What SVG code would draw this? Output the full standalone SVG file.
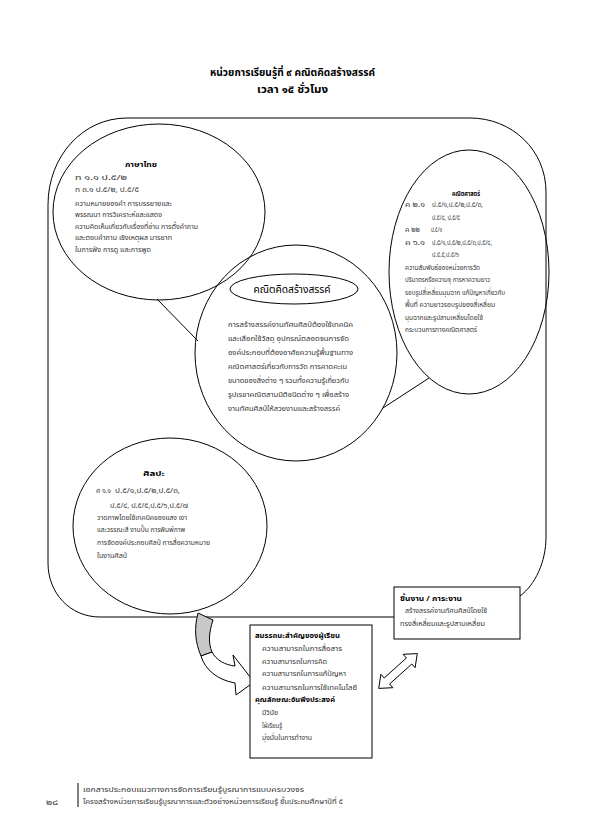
<svg xmlns="http://www.w3.org/2000/svg" width="595" height="836" viewBox="0 0 595 836">
<style>
text{font-family:"Noto Sans Thai","Noto Serif Thai","Noto Sans","DejaVu Sans",sans-serif;fill:#333;font-size:7.5px}
.b{font-weight:bold;fill:#000}
.t{font-size:10.5px;font-weight:bold;fill:#000}
.m{text-anchor:middle}
.sh{fill:#fff;stroke:#000;stroke-width:1}
.ln{fill:none;stroke:#000;stroke-width:1}
</style>
<rect width="595" height="836" fill="#fff"/>
<g id="title">
<text class="t m" x="292.5" y="76" textLength="165" lengthAdjust="spacingAndGlyphs">หน่วยการเรียนรู้ที่ ๙  คณิตคิดสร้างสรรค์</text>
<text class="t m" x="292.5" y="93" textLength="71" lengthAdjust="spacingAndGlyphs">เวลา  ๑๕  ชั่วโมง</text>
</g>
<g id="frame">
<path class="ln" stroke-width="1.3" d="M394,617 L100,617 C70,617 48,593 48,563 L48,205 C48,156 83,118 127,118 L470,118 C512,118 546,150 546,192 L546,537 C546,562 535,585 520,596"/>
</g>
<g id="connectors">
<line class="ln" x1="157" y1="299" x2="198" y2="341"/>
<line class="ln" x1="429" y1="378" x2="383" y2="408"/>
<path fill="#c8c8c8" stroke="#000" stroke-width="1" d="M198,613 L213,620 C209,632 208,643 212,652 L201,656 C195,642 194,628 198,613 Z"/>
<path class="sh" d="M212,652 C216,660 225,665 235,666 L233,655 L254,682 L236,695 L235,683 C218,680 205,670 201,656 Z"/>
<polygon class="sh" points="417.3,653.6 415.1,667.7 411.8,664 389.6,684 392.9,687.7 378.7,688.4 380.9,674.3 384.2,678 406.4,658 403.1,654.3"/>
</g>
<g id="node-thai">
<ellipse class="ln" cx="159" cy="212" rx="106" ry="88"/>
<text class="b m" x="141" y="167" textLength="32" lengthAdjust="spacingAndGlyphs">ภาษาไทย</text>
<text x="75" y="180" textLength="52" lengthAdjust="spacingAndGlyphs">ท ๑.๑  ป.๕/๒</text>
<text x="75" y="192" textLength="64" lengthAdjust="spacingAndGlyphs">ท ๓.๑  ป.๕/๒, ป.๕/๕</text>
<text x="75" y="206" textLength="97" lengthAdjust="spacingAndGlyphs">ความหมายของคำ การบรรยายและ</text>
<text x="75" y="217" textLength="87" lengthAdjust="spacingAndGlyphs">พรรณนา การวิเคราะห์และแสดง</text>
<text x="75" y="229" textLength="123" lengthAdjust="spacingAndGlyphs">ความคิดเห็นเกี่ยวกับเรื่องที่อ่าน การตั้งคำถาม</text>
<text x="75" y="240" textLength="97" lengthAdjust="spacingAndGlyphs">และตอบคำถาม เชิงเหตุผล มารยาท</text>
<text x="75" y="252" textLength="76" lengthAdjust="spacingAndGlyphs">ในการฟัง การดู และการพูด</text>
</g>
<g id="node-math">
<ellipse class="ln" cx="469" cy="272" rx="80" ry="122"/>
<text class="b m" x="466" y="196" textLength="28" lengthAdjust="spacingAndGlyphs">คณิตศาสตร์</text>
<text x="405" y="207" textLength="20" lengthAdjust="spacingAndGlyphs">ค ๒.๑</text><text x="432" y="207" textLength="51" lengthAdjust="spacingAndGlyphs">ป.๕/๑,ป.๕/๒,ป.๕/๓,</text>
<text x="432" y="219.5" textLength="28" lengthAdjust="spacingAndGlyphs">ป.๕/๔, ป.๕/๕</text>
<text x="405" y="232" textLength="15" lengthAdjust="spacingAndGlyphs">ค ๒๒</text><text x="431" y="232" textLength="11" lengthAdjust="spacingAndGlyphs">ป.๕/๑</text>
<text x="405" y="244.5" textLength="20" lengthAdjust="spacingAndGlyphs">ค ๖.๑</text><text x="432" y="244.5" textLength="60" lengthAdjust="spacingAndGlyphs">ป.๕/๑,ป.๕/๒,ป.๕/๓,ป.๕/๔,</text>
<text x="432" y="257" textLength="27" lengthAdjust="spacingAndGlyphs">ป.๕.๕,ป.๕/๖</text>
<text x="405" y="269.5" textLength="75" lengthAdjust="spacingAndGlyphs">ความสัมพันธ์ของหน่วยการวัด</text>
<text x="405" y="282" textLength="85" lengthAdjust="spacingAndGlyphs">ปริมาตรหรือความจุ การหาความยาว</text>
<text x="405" y="294.5" textLength="100" lengthAdjust="spacingAndGlyphs">รอบรูปสี่เหลี่ยมมุมฉาก แก้ปัญหาเกี่ยวกับ</text>
<text x="405" y="307" textLength="90" lengthAdjust="spacingAndGlyphs">พื้นที่ ความยาวรอบรูปของสี่เหลี่ยม</text>
<text x="405" y="319.5" textLength="78" lengthAdjust="spacingAndGlyphs">มุมฉากและรูปสามเหลี่ยมโดยใช้</text>
<text x="405" y="332" textLength="72" lengthAdjust="spacingAndGlyphs">กระบวนการทางคณิตศาสตร์</text>
</g>
<g id="node-center">
<ellipse class="ln" cx="296" cy="353" rx="101" ry="108"/>
<ellipse class="ln" cx="294" cy="289" rx="64" ry="15"/>
<text class="m" x="292" y="293" textLength="77" lengthAdjust="spacingAndGlyphs" style="font-size:11px;fill:#000">คณิตคิดสร้างสรรค์</text>
<text x="228" y="327" textLength="125" lengthAdjust="spacingAndGlyphs">การสร้างสรรค์งานทัศนศิลป์ต้องใช้เทคนิค</text>
<text x="228" y="341" textLength="121" lengthAdjust="spacingAndGlyphs">และเลือกใช้วัสดุ อุปกรณ์ตลอดจนการจัด</text>
<text x="228" y="355" textLength="125" lengthAdjust="spacingAndGlyphs">องค์ประกอบที่ต้องอาศัยความรู้พื้นฐานทาง</text>
<text x="228" y="369" textLength="119" lengthAdjust="spacingAndGlyphs">คณิตศาสตร์เกี่ยวกับการวัด การคาดคะเน</text>
<text x="228" y="383" textLength="121" lengthAdjust="spacingAndGlyphs">ขนาดของสิ่งต่าง ๆ รวมทั้งความรู้เกี่ยวกับ</text>
<text x="228" y="397" textLength="121" lengthAdjust="spacingAndGlyphs">รูปเรขาคณิตสามมิติชนิดต่าง ๆ เพื่อสร้าง</text>
<text x="228" y="411" textLength="112" lengthAdjust="spacingAndGlyphs">งานทัศนศิลป์ให้สวยงามและสร้างสรรค์</text>
</g>
<g id="node-art">
<ellipse class="ln" cx="170" cy="526" rx="97" ry="88"/>
<text class="b m" x="154" y="476" textLength="22" lengthAdjust="spacingAndGlyphs">ศิลปะ</text>
<text x="96" y="493" textLength="15" lengthAdjust="spacingAndGlyphs">ศ ๑.๑</text><text x="115" y="493" textLength="65" lengthAdjust="spacingAndGlyphs">ป.๕/๑,ป.๕/๒,ป.๕/๓,</text>
<text x="110" y="508" textLength="78" lengthAdjust="spacingAndGlyphs">ป.๕/๔, ป.๕/๕,ป.๕/๖,ป.๕/๗</text>
<text x="97" y="520" textLength="90" lengthAdjust="spacingAndGlyphs">วาดภาพโดยใช้เทคนิคของแสง เงา</text>
<text x="97" y="532" textLength="88" lengthAdjust="spacingAndGlyphs">และวรรณะสี งานปั้น การพิมพ์ภาพ</text>
<text x="97" y="545" textLength="113" lengthAdjust="spacingAndGlyphs">การจัดองค์ประกอบศิลป์ การสื่อความหมาย</text>
<text x="97" y="558" textLength="30" lengthAdjust="spacingAndGlyphs">ในงานศิลป์</text>
</g>
<g id="node-product">
<rect class="sh" x="394" y="587" width="126" height="52"/>
<text class="b" x="400" y="601" textLength="62" lengthAdjust="spacingAndGlyphs">ชิ้นงาน / ภาระงาน</text>
<text x="405" y="613" textLength="82" lengthAdjust="spacingAndGlyphs">สร้างสรรค์งานทัศนศิลป์โดยใช้</text>
<text x="400" y="626" textLength="85" lengthAdjust="spacingAndGlyphs">ทรงสี่เหลี่ยมและรูปสามเหลี่ยม</text>
</g>
<g id="node-competency">
<rect class="sh" x="250" y="625" width="122" height="133"/>
<text class="b" x="255" y="638" textLength="85" lengthAdjust="spacingAndGlyphs">สมรรถนะสำคัญของผู้เรียน</text>
<text x="262" y="651" textLength="80" lengthAdjust="spacingAndGlyphs">ความสามารถในการสื่อสาร</text>
<text x="262" y="664" textLength="65" lengthAdjust="spacingAndGlyphs">ความสามารถในการคิด</text>
<text x="262" y="676" textLength="84" lengthAdjust="spacingAndGlyphs">ความสามารถในการแก้ปัญหา</text>
<text x="262" y="690" textLength="95" lengthAdjust="spacingAndGlyphs">ความสามารถในการใช้เทคโนโลยี</text>
<text class="b" x="255" y="702" textLength="80" lengthAdjust="spacingAndGlyphs">คุณลักษณะอันพึงประสงค์</text>
<text x="262" y="715" textLength="16" lengthAdjust="spacingAndGlyphs">มีวินัย</text>
<text x="262" y="728" textLength="20" lengthAdjust="spacingAndGlyphs">ใฝ่เรียนรู้</text>
<text x="262" y="740" textLength="50" lengthAdjust="spacingAndGlyphs">มุ่งมั่นในการทำงาน</text>
</g>
<g id="footer">
<line class="ln" x1="78" y1="783" x2="78" y2="807"/>
<text x="46" y="805" textLength="12" lengthAdjust="spacingAndGlyphs">๒๘</text>
<text x="83" y="792" textLength="221" lengthAdjust="spacingAndGlyphs">เอกสารประกอบแนวทางการจัดการเรียนรู้บูรณาการแบบครบวงจร</text>
<text x="83" y="804" textLength="260" lengthAdjust="spacingAndGlyphs">โครงสร้างหน่วยการเรียนรู้บูรณาการและตัวอย่างหน่วยการเรียนรู้ ชั้นประถมศึกษาปีที่ ๕</text>
</g>
</svg>
